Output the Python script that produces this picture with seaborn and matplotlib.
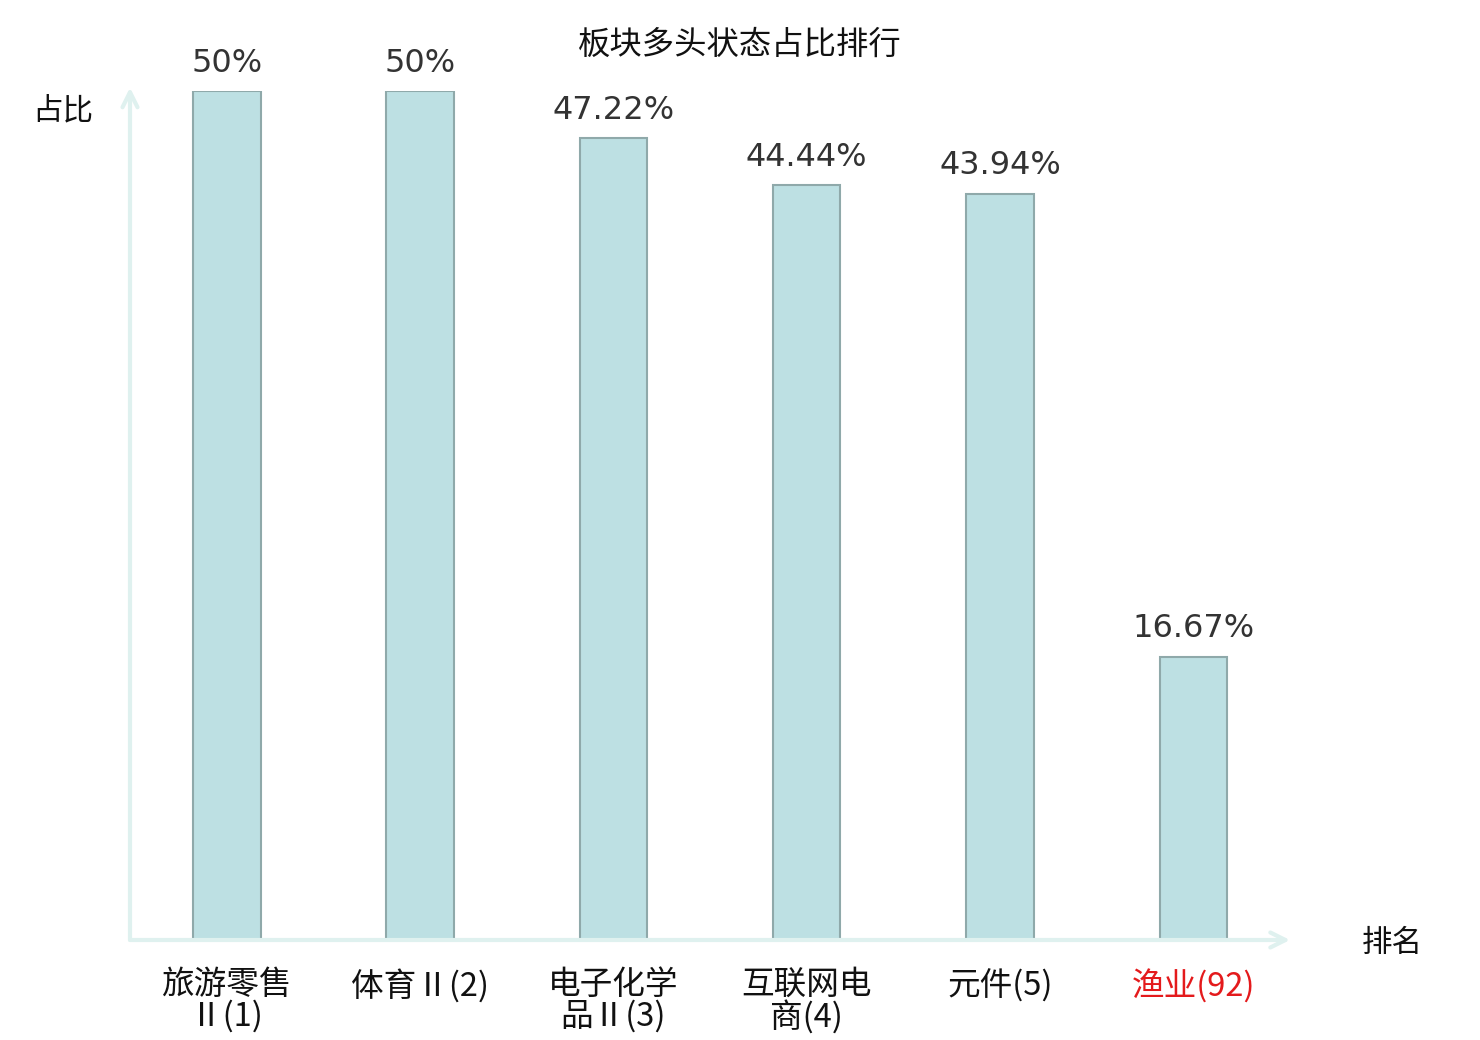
import matplotlib
matplotlib.use('Agg')
import matplotlib.pyplot as plt
import seaborn as sns
import pandas as pd

# data
sectors = ['旅游零售\nⅡ(1)', '体育Ⅱ(2)', '电子化学\n品Ⅱ(3)', '互联网电\n商(4)', '元件(5)', '渔业(92)']
ratios = [50, 50, 47.22, 44.44, 43.94, 16.67]
value_labels = ['50%', '50%', '47.22%', '44.44%', '43.94%', '16.67%']
label_colors = ['#111111', '#111111', '#111111', '#111111', '#111111', '#e41a1c']

df = pd.DataFrame({'sector': sectors, 'ratio': ratios})

sns.set_theme(style='white')
cjk = ['Noto Sans CJK SC', 'DejaVu Sans']
plt.rcParams['font.family'] = cjk

fig = plt.figure(figsize=(14.8, 10.4), dpi=100)
ax = fig.add_axes([130 / 1480, 100 / 1040, 1160 / 1480, 849 / 1040])

sns.barplot(data=df, x='sector', y='ratio', ax=ax, width=0.35,
            color='#bde0e3', edgecolor='#8fa9aa', linewidth=1.5, saturation=1)

ax.set_xlim(-0.5, 5.5)
ax.set_ylim(0, 50)
for s in ax.spines.values():
    s.set_visible(False)
ax.set_yticks([])
ax.set_xlabel('')
ax.set_ylabel('')

# value labels on top of bars
for i, (v, lab) in enumerate(zip(ratios, value_labels)):
    ax.annotate(lab, (i, v), xytext=(0, 9), textcoords='offset points',
                ha='center', va='bottom', fontsize=23, color='#333333',
                family='DejaVu Sans')

# category labels under the axis
ax.set_xticks(range(len(sectors)))
ax.set_xticklabels(sectors, fontsize=23.5, linespacing=0.95, fontweight='light')
ax.tick_params(axis='x', length=0, pad=21)
for t, c in zip(ax.get_xticklabels(), label_colors):
    t.set_color(c)

# axis arrows
axis_col = '#dff1ef'
ax.annotate('', xy=(1.0, 0), xytext=(0, 0), xycoords='axes fraction',
            arrowprops=dict(arrowstyle='->,head_length=0.9,head_width=0.45',
                            color=axis_col, lw=3, shrinkA=0, shrinkB=0),
            annotation_clip=False)
ax.annotate('', xy=(0, 1.004), xytext=(0, 0), xycoords='axes fraction',
            arrowprops=dict(arrowstyle='->,head_length=0.9,head_width=0.45',
                            color=axis_col, lw=3, shrinkA=0, shrinkB=0),
            annotation_clip=False)

fig.text(63 / 1480, 1 - 111 / 1040, '占比', ha='center', va='center', fontsize=22, color='#111111')
fig.text(1392 / 1480, 1 - 943 / 1040, '排名', ha='center', va='center', fontsize=22, color='#111111')
fig.text(740 / 1480, 1 - 45 / 1040, '板块多头状态占比排行', ha='center', va='center', fontsize=23.3, color='#111111')

fig.savefig('out.png', dpi=100)
